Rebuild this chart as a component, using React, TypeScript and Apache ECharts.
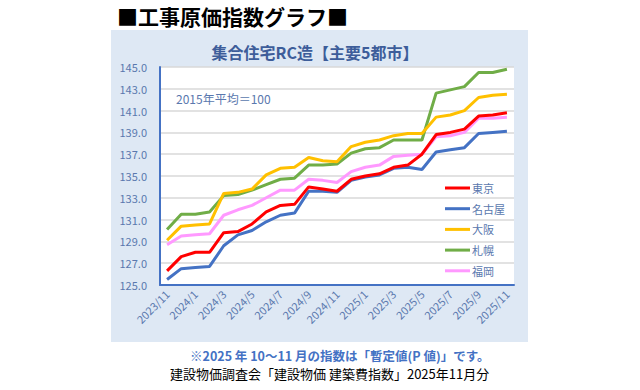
import React, { useEffect, useRef } from "react";
import * as echarts from "echarts";

const months = [
  "2023/11", "2023/12",
  "2024/1", "2024/2", "2024/3", "2024/4", "2024/5", "2024/6", "2024/7", "2024/8", "2024/9", "2024/10", "2024/11", "2024/12",
  "2025/1", "2025/2", "2025/3", "2025/4", "2025/5", "2025/6", "2025/7", "2025/8", "2025/9", "2025/10", "2025/11",
];

const tokyo = [126.3, 127.6, 128.0, 128.0, 129.8, 129.9, 130.6, 131.7, 132.3, 132.4, 134.0, 133.8, 133.6, 134.7, 135.0, 135.2, 135.8, 136.0, 137.0, 138.8, 139.0, 139.3, 140.5, 140.6, 140.8];
const nagoya = [125.5, 126.5, 126.6, 126.7, 128.6, 129.6, 130.0, 130.8, 131.4, 131.6, 133.6, 133.6, 133.5, 134.6, 134.9, 135.1, 135.7, 135.8, 135.6, 137.2, 137.4, 137.6, 138.9, 139.0, 139.1];
const osaka = [129.1, 130.4, 130.5, 130.6, 133.4, 133.5, 133.8, 135.1, 135.7, 135.8, 136.7, 136.4, 136.3, 137.7, 138.1, 138.3, 138.7, 138.9, 138.9, 140.4, 140.6, 141.0, 142.2, 142.4, 142.5];
const sapporo = [130.1, 131.5, 131.5, 131.7, 133.2, 133.3, 133.7, 134.2, 134.7, 134.8, 136.0, 136.0, 136.1, 137.1, 137.5, 137.6, 138.3, 138.3, 138.3, 142.6, 142.9, 143.2, 144.5, 144.5, 144.8];
const fukuoka = [128.7, 129.5, 129.6, 129.7, 131.4, 131.9, 132.3, 133.0, 133.7, 133.7, 134.7, 134.6, 134.4, 135.4, 135.8, 136.0, 136.8, 136.9, 137.0, 138.6, 138.7, 139.0, 140.3, 140.3, 140.4];

const seriesNames = ["東京", "名古屋", "大阪", "札幌", "福岡"];
const seriesData = [tokyo, nagoya, osaka, sapporo, fukuoka];
const seriesColors = ["#ff0000", "#4472c4", "#ffc000", "#70ad47", "#ff99ff"];

const FONT = "'Noto Sans CJK JP', 'Noto Sans', sans-serif";
const LABEL_COLOR = "#5a78ae";

export default function App() {
  const ref = useRef<HTMLDivElement>(null);
  useEffect(() => {
    if (!ref.current) return;
    const chart = echarts.init(ref.current, undefined, { renderer: "svg" });
    chart.setOption({
      animation: false,
      backgroundColor: "#ffffff",
      textStyle: { fontFamily: FONT },
      graphic: [
        {
          type: "rect",
          z: -10,
          shape: { x: 111, y: 30, width: 417, height: 312 },
          style: { fill: "#dee8f4" },
        },
        {
          type: "text",
          left: 117,
          top: 5,
          style: {
            text: "■工事原価指数グラフ■",
            fontSize: 21,
            fontWeight: "bold",
            fill: "#000000",
            fontFamily: FONT,
          },
        },
        {
          type: "text",
          x: 315,
          y: 52,
          style: {
            text: "集合住宅RC造【主要5都市】",
            fontSize: 16,
            fontWeight: "bold",
            fill: "#3d5d9a",
            align: "center",
            verticalAlign: "middle",
            fontFamily: FONT,
          },
        },
        {
          type: "text",
          x: 176,
          y: 98,
          z: 10,
          style: {
            text: "2015年平均＝100",
            fontSize: 12,
            fill: LABEL_COLOR,
            verticalAlign: "middle",
            fontFamily: FONT,
          },
        },
        {
          type: "text",
          x: 190,
          y: 355,
          style: {
            text: "※2025 年 10～11 月の指数は「暫定値(P 値)」です。",
            fontSize: 12.5,
            fontWeight: "bold",
            fill: "#4472c4",
            verticalAlign: "middle",
            fontFamily: FONT,
          },
        },
        {
          type: "text",
          x: 170,
          y: 373,
          style: {
            text: "建設物価調査会「建設物価 建築費指数」2025年11月分",
            fontSize: 13,
            fill: "#000000",
            verticalAlign: "middle",
            fontFamily: FONT,
          },
        },
      ],
      grid: {
        left: 160,
        right: 126,
        top: 67,
        bottom: 105,
        show: true,
        backgroundColor: "#ffffff",
        borderWidth: 0,
        containLabel: false,
      },
      legend: {
        orient: "vertical",
        left: 440,
        top: 176,
        icon: "rect",
        itemWidth: 25,
        itemHeight: 3,
        itemGap: 6.7,
        textStyle: {
          color: LABEL_COLOR,
          fontSize: 11,
          lineHeight: 14,
          padding: [0, 0, 0, -3],
          fontFamily: FONT,
        },
        data: seriesNames,
      },
      xAxis: {
        type: "category",
        data: months,
        boundaryGap: true,
        axisLine: { show: true, lineStyle: { color: "#4472c4", width: 2 } },
        axisTick: { show: false },
        axisLabel: {
          interval: 1,
          rotate: 45,
          color: LABEL_COLOR,
          fontSize: 11,
          margin: 7,
          fontFamily: FONT,
        },
        splitLine: { show: false },
      },
      yAxis: {
        type: "value",
        min: 125,
        max: 145,
        interval: 2,
        axisLine: { show: true, lineStyle: { color: "#4472c4", width: 2 } },
        axisTick: { show: false },
        axisLabel: {
          color: LABEL_COLOR,
          fontSize: 11,
          margin: 13,
          formatter: (v: number) => v.toFixed(1),
          fontFamily: FONT,
        },
        splitLine: { show: true, lineStyle: { color: "#d9d9d9", width: 1.5 } },
      },
      series: seriesNames.map((name, i) => ({
        name,
        type: "line",
        data: seriesData[i],
        symbol: "none",
        showSymbol: false,
        lineStyle: { color: seriesColors[i], width: 3 },
        itemStyle: { color: seriesColors[i] },
        z: 10 - i,
      })),
    });
    return () => chart.dispose();
  }, []);
  return (
    <div
      ref={ref}
      style={{ position: "fixed", left: 0, top: 0, width: 640, height: 390 }}
    />
  );
}
